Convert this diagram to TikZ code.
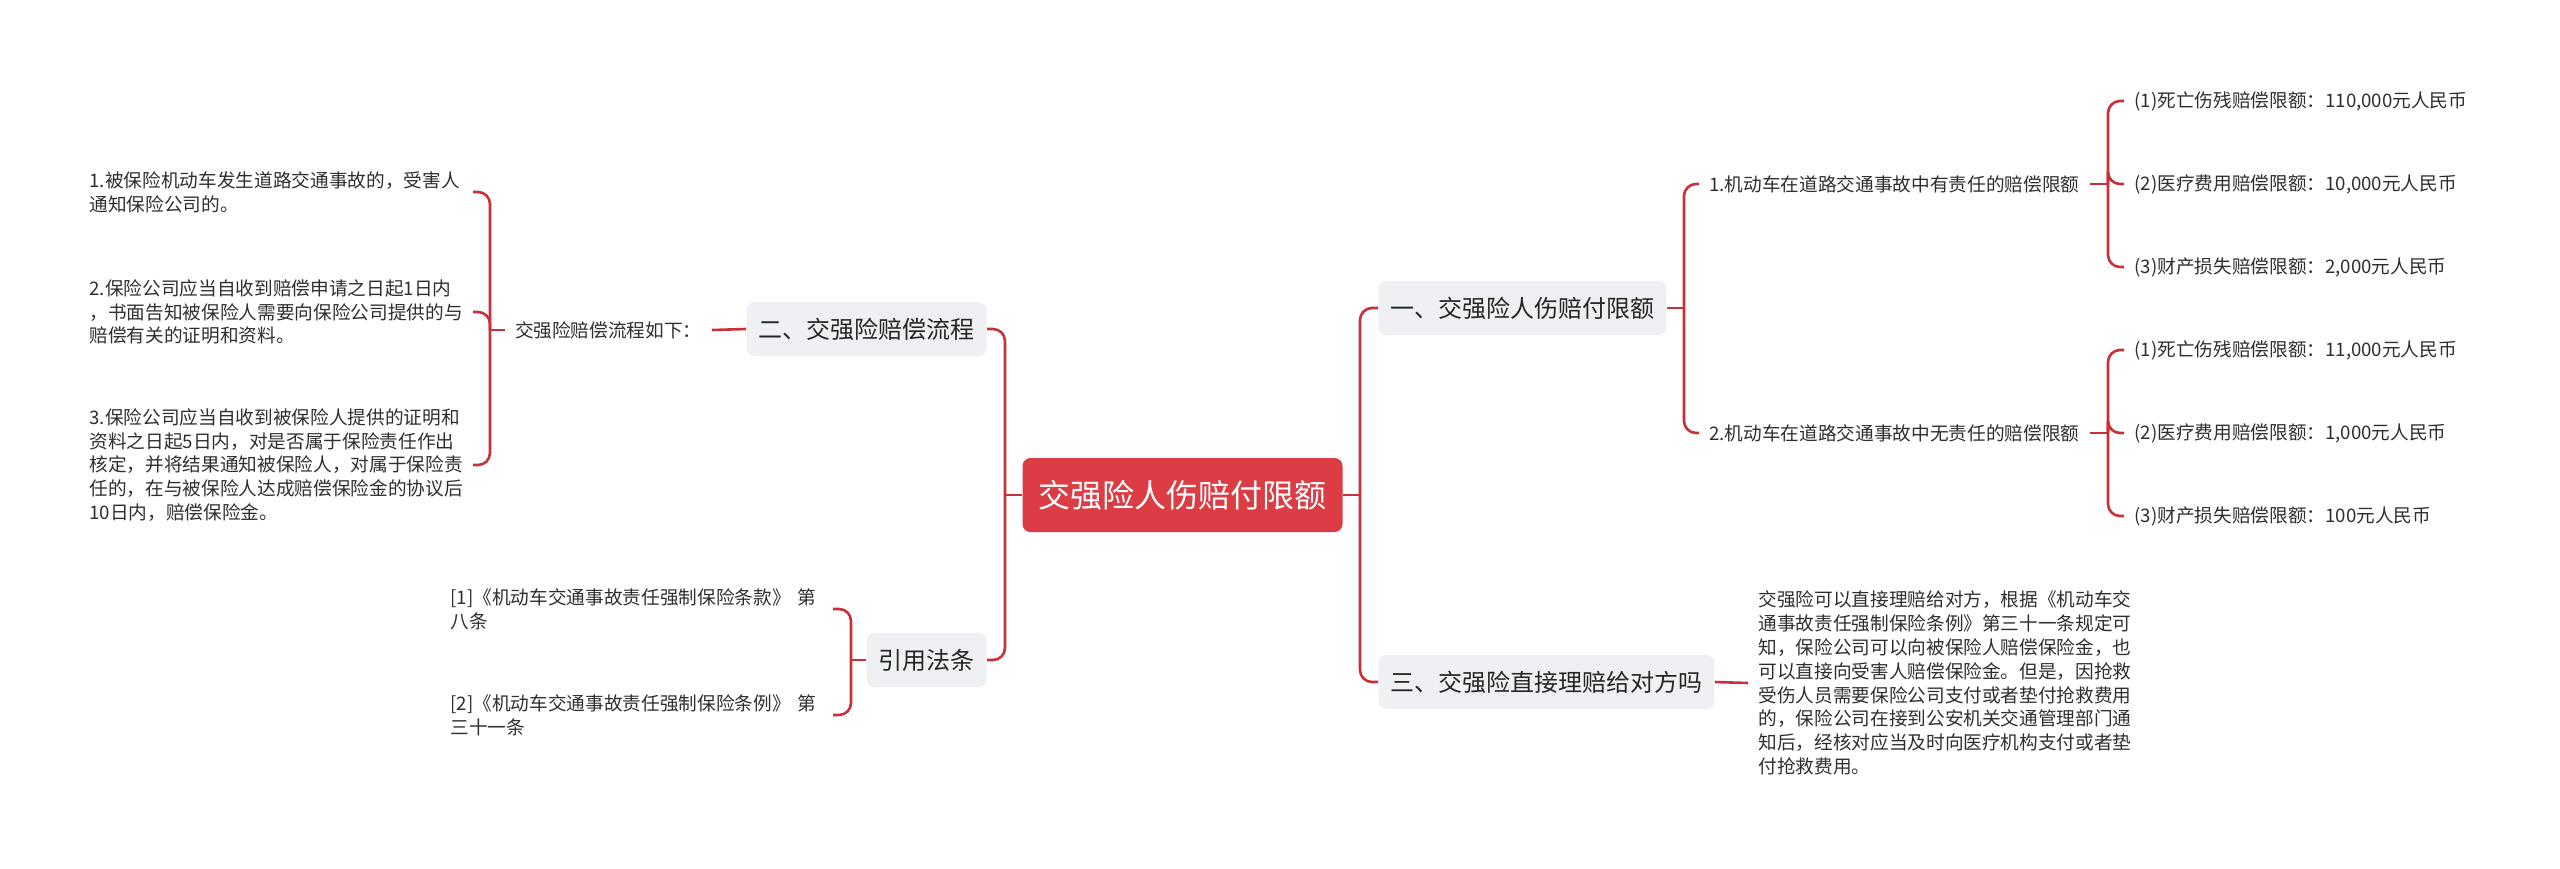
\documentclass[tikz,border=0pt]{standalone}
\usepackage{fontspec}
\newfontfamily\cjk{Noto Sans CJK SC}
\usepackage{tikz}
\usetikzlibrary{positioning,calc}
\usepackage{xcolor}
\definecolor{linkred}{RGB}{201,48,58}
\definecolor{rootred}{RGB}{220,61,69}
\definecolor{boxgrey}{RGB}{238,240,243}

\begin{document}
\begin{tikzpicture}[x=0.5pt,y=-0.5pt,
    link/.style={linkred,line width=1.3pt,rounded corners=6pt},
    rootbox/.style={fill=rootred,text=white,rounded corners=4pt,
      font=\cjk\fontsize{16}{19}\selectfont,inner xsep=8pt,minimum height=37pt},
    secbox/.style={fill=boxgrey,text=black!85,rounded corners=4pt,
      font=\cjk\fontsize{12}{14}\selectfont,inner xsep=6pt,minimum height=27pt},
    leaf/.style={text=black!82,font=\cjk\fontsize{9.33}{11.9}\selectfont,
      align=left,inner xsep=5pt,inner ysep=1pt}]
  \useasboundingbox (0,0) rectangle (2560,868);

  % centre and the four sections
  \node[rootbox] (root) at (1182.5,495) {交强险人伤赔付限额};
  \node[secbox,anchor=west] (sec1) at (1378,308) {一、交强险人伤赔付限额};
  \node[secbox,anchor=west] (sec3) at (1378,682) {三、交强险直接理赔给对方吗};
  \node[secbox,anchor=east] (sec2) at (987,329) {二、交强险赔偿流程};
  \node[secbox,anchor=east] (cite) at (987,660) {引用法条};
  \coordinate (jR) at (1360,495);
  \coordinate (jL) at (1005,495);
  \draw[link] (root.east) -- (jR);
  \draw[link] (jR) |- (sec1.west);
  \draw[link] (jR) |- (sec3.west);
  \draw[link] (root.west) -- (jL);
  \draw[link] (jL) |- (sec2.east);
  \draw[link] (jL) |- (cite.east);

  % claim procedure
  \node[leaf,anchor=east] (flow) at (712,330) {交强险赔偿流程如下：};
  \draw[link] (sec2.west) -- (flow.east);
  \coordinate (jF) at (490,330);
  \draw[link] (flow.west) -- (jF);
  \node[leaf,anchor=east,text width=186.5pt] (p1) at (473,192)
    {1.被保险机动车发生道路交通事故的，受害人\\通知保险公司的。};
  \node[leaf,anchor=east,text width=186.5pt] (p2) at (473,312)
    {2.保险公司应当自收到赔偿申请之日起1日内\\，书面告知被保险人需要向保险公司提供的与\\赔偿有关的证明和资料。};
  \node[leaf,anchor=east,text width=186.5pt] (p3) at (473,465)
    {3.保险公司应当自收到被保险人提供的证明和\\资料之日起5日内，对是否属于保险责任作出\\核定，并将结果通知被保险人，对属于保险责\\任的，在与被保险人达成赔偿保险金的协议后\\10日内，赔偿保险金。};
  \foreach \p in {p1,p2,p3}
    \draw[link] (jF) |- (\p.east);

  % cited articles
  \coordinate (jC) at (851,660);
  \draw[link] (cite.west) -- (jC);
  \node[leaf,anchor=east,text width=186pt] (r1) at (833,609)
    {[1]《机动车交通事故责任强制保险条款》 第\\八条};
  \node[leaf,anchor=east,text width=186pt] (r2) at (833,715)
    {[2]《机动车交通事故责任强制保险条例》 第\\三十一条};
  \draw[link] (jC) |- (r1.east);
  \draw[link] (jC) |- (r2.east);

  % limits
  \coordinate (jS) at (1684,308);
  \draw[link] (sec1.east) -- (jS);
  \node[leaf,anchor=west] (lim1) at (1699,184) {1.机动车在道路交通事故中有责任的赔偿限额};
  \node[leaf,anchor=west] (lim2) at (1699,433) {2.机动车在道路交通事故中无责任的赔偿限额};
  \draw[link] (jS) |- (lim1.west);
  \draw[link] (jS) |- (lim2.west);
  \coordinate (jA) at (2108,184);
  \coordinate (jB) at (2108,433);
  \draw[link] (lim1.east) -- (jA);
  \draw[link] (lim2.east) -- (jB);
  \node[leaf,anchor=west] (a1) at (2124,101) {(1)死亡伤残赔偿限额：110,000元人民币};
  \node[leaf,anchor=west] (a2) at (2124,184) {(2)医疗费用赔偿限额：10,000元人民币};
  \node[leaf,anchor=west] (a3) at (2124,267) {(3)财产损失赔偿限额：2,000元人民币};
  \node[leaf,anchor=west] (b1) at (2124,350) {(1)死亡伤残赔偿限额：11,000元人民币};
  \node[leaf,anchor=west] (b2) at (2124,433) {(2)医疗费用赔偿限额：1,000元人民币};
  \node[leaf,anchor=west] (b3) at (2124,516) {(3)财产损失赔偿限额：100元人民币};
  \foreach \a in {a1,a2,a3}
    \draw[link] (jA) |- (\a.west);
  \foreach \b in {b1,b2,b3}
    \draw[link] (jB) |- (\b.west);

  % direct payment
  \node[leaf,anchor=west] (ans) at (1748,683)
    {交强险可以直接理赔给对方，根据《机动车交\\通事故责任强制保险条例》第三十一条规定可\\知，保险公司可以向被保险人赔偿保险金，也\\可以直接向受害人赔偿保险金。但是，因抢救\\受伤人员需要保险公司支付或者垫付抢救费用\\的，保险公司在接到公安机关交通管理部门通\\知后，经核对应当及时向医疗机构支付或者垫\\付抢救费用。};
  \draw[link] (sec3.east) -- (ans.west);
\end{tikzpicture}
\end{document}
